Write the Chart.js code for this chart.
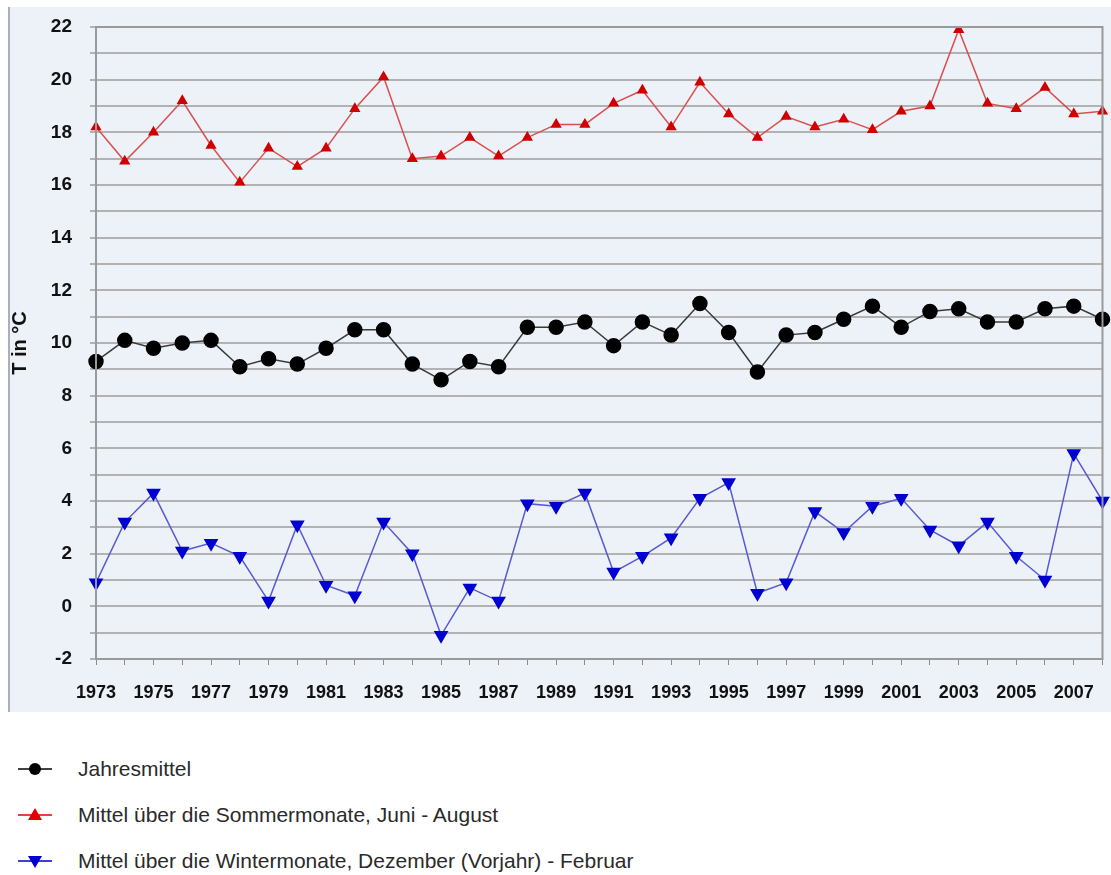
<!DOCTYPE html>
<html>
<head>
<meta charset="utf-8">
<script src="https://cdn.jsdelivr.net/npm/chart.js@4"></script>
<style>
  body { margin: 0; background: #fff; font-family: "Liberation Sans", Arial, sans-serif; }
  #panel { position: absolute; left: 8px; top: 7px; width: 1103px; height: 705px;
           background: #edf1f8; border-left: 2px solid #a9b0bd; box-sizing: border-box; }
  #tempChart { position: absolute; left: -2px; top: 0; }
  #legend { position: absolute; left: 18px; top: 757px; }
  .item { height: 24px; margin-bottom: 22px; display: flex; align-items: center;
          font-size: 21px; color: #2a2a2a; }
  .item svg { margin-right: 26px; }
</style>
</head>
<body>
<div id="panel"><canvas id="tempChart" width="1103" height="705"></canvas></div>
<div id="legend"></div>
<script>
const years = [];
for (let y = 1973; y <= 2008; y++) years.push(String(y));

const jahresmittel = [9.3, 10.1, 9.8, 10.0, 10.1, 9.1, 9.4, 9.2, 9.8, 10.5, 10.5, 9.2,
  8.6, 9.3, 9.1, 10.6, 10.6, 10.8, 9.9, 10.8, 10.3, 11.5, 10.4, 8.9,
  10.3, 10.4, 10.9, 11.4, 10.6, 11.2, 11.3, 10.8, 10.8, 11.3, 11.4, 10.9];

const sommer = [18.2, 16.9, 18.0, 19.2, 17.5, 16.1, 17.4, 16.7, 17.4, 18.9, 20.1, 17.0,
  17.1, 17.8, 17.1, 17.8, 18.3, 18.3, 19.1, 19.6, 18.2, 19.9, 18.7, 17.8,
  18.6, 18.2, 18.5, 18.1, 18.8, 19.0, 21.9, 19.1, 18.9, 19.7, 18.7, 18.8];

const winter = [0.9, 3.2, 4.3, 2.1, 2.4, 1.9, 0.2, 3.1, 0.8, 0.4, 3.2, 2.0,
  -1.1, 0.7, 0.2, 3.9, 3.8, 4.3, 1.3, 1.9, 2.6, 4.1, 4.7, 0.5,
  0.9, 3.6, 2.8, 3.8, 4.1, 2.9, 2.3, 3.2, 1.9, 1.0, 5.8, 4.0];

const seriesNames = ['Jahresmittel',
  'Mittel über die Sommermonate, Juni - August',
  'Mittel über die Wintermonate, Dezember (Vorjahr) - Februar'];

const frame = {
  id: 'frame',
  afterDraw(chart) {
    const a = chart.chartArea, c = chart.ctx;
    c.save();
    c.strokeStyle = '#9a9a9a';
    c.lineWidth = 2;
    c.strokeRect(a.left, a.top, a.right - a.left, a.bottom - a.top);
    c.restore();
  }
};

const ctx = document.getElementById('tempChart').getContext('2d');
const tempChart = new Chart(ctx, {
  type: 'line',
  data: {
    labels: years,
    datasets: [{
      label: seriesNames[0],
      data: jahresmittel,
      borderColor: '#3a3a3a',
      borderWidth: 1.5,
      pointStyle: 'circle',
      pointRadius: 7,
      pointBackgroundColor: '#000',
      pointBorderColor: '#000',
      tension: 0
    }, {
      label: seriesNames[1],
      data: sommer,
      borderColor: '#d85050',
      borderWidth: 1.5,
      pointStyle: 'triangle',
      pointRadius: 5,
      pointBackgroundColor: '#d00000',
      pointBorderColor: '#d00000',
      tension: 0
    }, {
      label: seriesNames[2],
      data: winter,
      borderColor: '#5a5ad0',
      borderWidth: 1.5,
      pointStyle: 'triangle',
      rotation: 180,
      pointRadius: 7,
      pointBackgroundColor: '#0000d0',
      pointBorderColor: '#0000d0',
      tension: 0
    }]
  },
  options: {
    responsive: false,
    animation: false,
    layout: { padding: { top: 20, right: 2, bottom: 3, left: 0 } },
    plugins: { legend: { display: false }, tooltip: { enabled: false } },
    scales: {
      x: {
        afterFit: (scale) => { scale.height = 50; scale.paddingRight = 0; scale.paddingLeft = 0; },
        grid: { drawOnChartArea: false, color: '#8a8a8a', tickLength: 6 },
        border: { color: '#9a9a9a', width: 2 },
        ticks: {
          autoSkip: false, maxRotation: 0, padding: 17, color: '#111',
          font: { family: 'Liberation Sans', size: 18, weight: 'bold' },
          callback: (v, i) => (i % 2 === 0 ? years[i] : '')
        }
      },
      y: {
        min: -2,
        max: 22,
        afterFit: (scale) => { scale.width = 88; scale.paddingTop = 0; scale.paddingBottom = 0; },
        grid: { color: '#b2b2b2', lineWidth: 2, tickLength: 6 },
        border: { color: '#9a9a9a', width: 2 },
        title: {
          display: true, text: 'T in °C', color: '#111', padding: { top: 0, bottom: 0 },
          font: { family: 'Liberation Sans', size: 20, weight: 'bold' }
        },
        ticks: {
          stepSize: 1, padding: 18, color: '#111',
          font: { family: 'Liberation Sans', size: 19, weight: 'bold' },
          callback: (v) => (v % 2 === 0 ? v : '')
        }
      }
    }
  },
  plugins: [frame]
});

// legend below the chart
const legendBox = document.getElementById('legend');
const symbols = [
  '<circle cx="17" cy="12" r="6" fill="#000"/>',
  '<polygon points="17,5 24,17 10,17" fill="#e00000"/>',
  '<polygon points="17,19 24,7 10,7" fill="#0000d0"/>'
];
const lineColors = ['#000', '#e00000', '#0000c0'];
seriesNames.forEach((name, i) => {
  const row = document.createElement('div');
  row.className = 'item';
  row.innerHTML = '<svg width="34" height="24"><line x1="0" y1="12" x2="34" y2="12" stroke="' +
    lineColors[i] + '" stroke-width="1.5"/>' + symbols[i] + '</svg><span>' + name + '</span>';
  legendBox.appendChild(row);
});
</script>
</body>
</html>
